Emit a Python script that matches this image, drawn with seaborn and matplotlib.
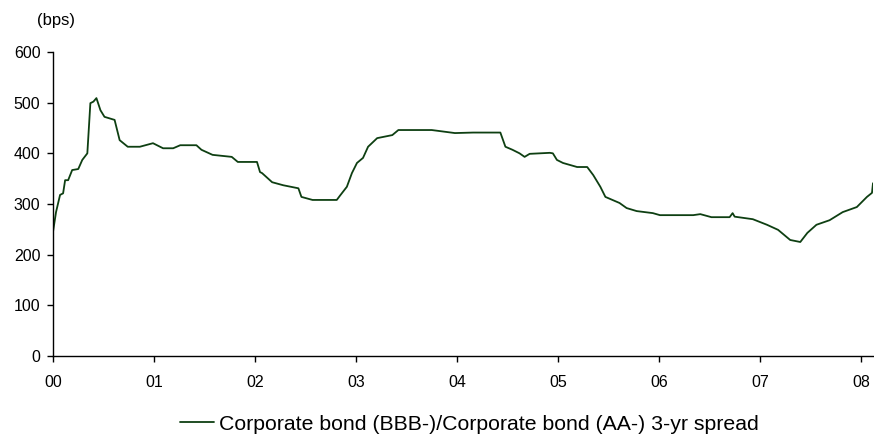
import matplotlib
matplotlib.use('Agg')
import matplotlib.pyplot as plt
import seaborn as sns
import pandas as pd

# spread series (x = years since 2000)
years = [0.00, 0.03, 0.07, 0.10, 0.12, 0.15, 0.19, 0.25, 0.29, 0.34, 0.37, 0.40,
         0.43, 0.47, 0.51, 0.61, 0.66, 0.74, 0.86, 0.99, 1.09, 1.19, 1.26, 1.42,
         1.47, 1.58, 1.77, 1.83, 2.02, 2.05, 2.07, 2.17, 2.28, 2.43, 2.46, 2.57,
         2.81, 2.84, 2.91, 2.96, 3.01, 3.07, 3.12, 3.21, 3.36, 3.42, 3.75, 3.98,
         4.16, 4.43, 4.48, 4.55, 4.62, 4.67, 4.72, 4.92, 4.95, 4.99, 5.05, 5.19,
         5.29, 5.35, 5.42, 5.47, 5.61, 5.68, 5.78, 5.94, 6.01, 6.34, 6.41, 6.52,
         6.70, 6.73, 6.75, 6.93, 7.07, 7.18, 7.30, 7.40, 7.47, 7.56, 7.69, 7.82,
         7.96, 8.06, 8.11, 8.12]
spread = [245, 284, 318, 321, 347, 347, 367, 369, 387, 400, 499, 502,
          509, 485, 472, 466, 426, 413, 413, 420, 410, 410, 416, 416,
          407, 397, 393, 383, 383, 363, 361, 343, 337, 331, 314, 308,
          308, 316, 334, 361, 381, 391, 413, 430, 436, 446, 446, 440,
          441, 441, 413, 407, 400, 393, 399, 401, 400, 387, 381, 373,
          373, 357, 334, 314, 302, 292, 286, 282, 278, 278, 280, 274,
          274, 282, 275, 270, 259, 249, 229, 225, 243, 259, 268, 284,
          294, 314, 322, 341]
year_ticks = [0, 1, 2, 3, 4, 5, 6, 7, 8]
year_labels = ['00', '01', '02', '03', '04', '05', '06', '07', '08']
series_name = 'Corporate bond (BBB-)/Corporate bond (AA-) 3-yr spread'

df = pd.DataFrame({'year': years, 'spread': spread})

sns.set_style('white')
plt.rcParams['font.family'] = ['Liberation Sans', 'DejaVu Sans']
plt.rcParams['text.color'] = 'black'

fig = plt.figure(figsize=(8.74, 4.34), dpi=100)
ax = fig.add_axes([53 / 874, 1 - 356 / 434, 820 / 874, 304 / 434])

sns.lineplot(data=df, x='year', y='spread', ax=ax, color='#0e3f12',
             linewidth=1.3, label=series_name)

ax.set_xlim(0, 8.12)
ax.set_ylim(0, 600)
ax.set_xticks(year_ticks)
ax.set_xticklabels(year_labels)
ax.set_yticks(range(0, 601, 100))
ax.set_xlabel('')
ax.set_ylabel('')
sns.despine(ax=ax)
for s in ['left', 'bottom']:
    ax.spines[s].set_color('black')
    ax.spines[s].set_linewidth(1.0)
ax.tick_params(axis='both', direction='out', length=4, width=1, color='black',
               labelsize=11.5, labelcolor='black', bottom=True, left=True)
ax.tick_params(axis='x', pad=10)
ax.tick_params(axis='y', pad=5)

fig.text(37 / 874, 1 - 20 / 434, '(bps)', fontsize=12, va='center', ha='left',
         color='black')

leg = ax.legend(loc='center', bbox_to_anchor=(0.508, -0.224), frameon=False,
                fontsize=15.3, handlelength=1.6, handletextpad=0.25,
                borderpad=0, borderaxespad=0)
for t in leg.get_texts():
    t.set_color('black')

fig.savefig('out.png', dpi=100)
